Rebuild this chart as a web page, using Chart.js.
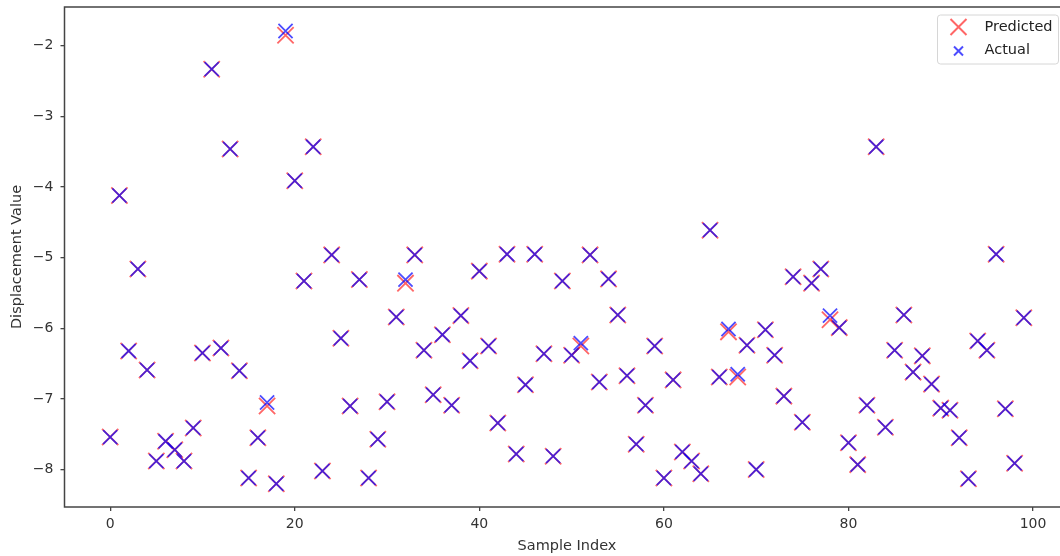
<!DOCTYPE html>
<html>
<head>
<meta charset="utf-8">
<script src="https://cdn.jsdelivr.net/npm/chart.js@4.4.1/dist/chart.umd.min.js"></script>
<style>
  html, body { margin: 0; padding: 0; background: #fff; overflow: hidden; }
  #chart { display: block; }
</style>
</head>
<body>
<canvas id="chart" width="1073" height="556"></canvas>
<script>
// values, index = sample index
const actual = [
  -7.54, -4.12, -6.32, -5.16, -6.59, -7.88, -7.60, -7.72, -7.88, -7.41,
  -6.35, -2.33, -6.28, -3.46, -6.60, -8.12, -7.55, -7.05, -8.20, -1.79,
  -3.91, -5.33, -3.43, -8.02, -4.96, -6.14, -7.10, -5.31, -8.12, -7.57,
  -7.04, -5.84, -5.31, -4.96, -6.31, -6.94, -6.09, -7.09, -5.82, -6.46,
  -5.19, -6.25, -7.34, -4.95, -7.78, -6.80, -4.95, -6.36, -7.81, -5.33,
  -6.38, -6.21, -4.96, -6.76, -5.30, -5.81, -6.67, -7.64, -7.09, -6.25,
  -8.12, -6.73, -7.75, -7.88, -8.06, -4.61, -6.69, -6.01, -6.65, -6.24,
  -8.00, -6.02, -6.38, -6.96, -5.27, -7.33, -5.36, -5.16, -5.82, -5.99,
  -7.62, -7.93, -7.09, -3.43, -7.40, -6.31, -5.81, -6.62, -6.39, -6.79,
  -7.13, -7.16, -7.55, -8.13, -6.18, -6.31, -4.95, -7.14, -7.91, -5.85
];
const predicted = [
  -7.54, -4.12, -6.32, -5.16, -6.59, -7.88, -7.60, -7.72, -7.88, -7.41,
  -6.35, -2.33, -6.28, -3.46, -6.60, -8.12, -7.55, -7.10, -8.20, -1.85,
  -3.91, -5.33, -3.43, -8.02, -4.96, -6.14, -7.10, -5.31, -8.12, -7.57,
  -7.04, -5.84, -5.36, -4.96, -6.31, -6.94, -6.09, -7.09, -5.82, -6.46,
  -5.19, -6.25, -7.34, -4.95, -7.78, -6.80, -4.95, -6.36, -7.81, -5.33,
  -6.38, -6.25, -4.96, -6.76, -5.30, -5.81, -6.67, -7.64, -7.09, -6.25,
  -8.12, -6.73, -7.75, -7.88, -8.06, -4.61, -6.69, -6.05, -6.69, -6.24,
  -8.00, -6.02, -6.38, -6.96, -5.27, -7.33, -5.36, -5.16, -5.88, -5.99,
  -7.62, -7.93, -7.09, -3.43, -7.40, -6.31, -5.81, -6.62, -6.39, -6.79,
  -7.13, -7.16, -7.55, -8.13, -6.18, -6.31, -4.95, -7.14, -7.91, -5.85
];
const xTicks = [0, 20, 40, 60, 80, 100];
const yTicks = [-8, -7, -6, -5, -4, -3, -2];
const seriesNames = ['Predicted', 'Actual'];

const RED = 'rgba(255, 0, 0, 0.6)';
const BLUE = 'rgba(0, 0, 255, 0.7)';
const AXIS = '#444';
const FONT = "'DejaVu Sans', sans-serif";

const toPoints = arr => arr.map((v, i) => ({ x: i, y: v }));

// frame round the plot area (matplotlib style spines)
const frame = {
    id: 'frame',
    afterDatasetsDraw(chart) {
        const { ctx, chartArea: a } = chart;
        ctx.save();
        ctx.strokeStyle = AXIS;
        ctx.lineWidth = 1.5;
        ctx.strokeRect(a.left, a.top, a.right - a.left, a.bottom - a.top);
        ctx.restore();
    }
};

function drawCross(ctx, x, y, half, color, width) {
    ctx.strokeStyle = color;
    ctx.lineWidth = width;
    ctx.beginPath();
    ctx.moveTo(x - half, y - half); ctx.lineTo(x + half, y + half);
    ctx.moveTo(x - half, y + half); ctx.lineTo(x + half, y - half);
    ctx.stroke();
}

// legend box, top right inside the axes
const legendBox = {
    id: 'legendBox',
    afterDraw(chart) {
        const { ctx, chartArea: a } = chart;
        const w = 121, h = 49;
        const x = a.right - 11 - w, y = a.top + 8;
        ctx.save();
        ctx.fillStyle = 'rgba(255,255,255,0.85)';
        ctx.strokeStyle = '#d6d6d6';
        ctx.lineWidth = 1;
        ctx.beginPath();
        ctx.roundRect(x, y, w, h, 3);
        ctx.fill();
        ctx.stroke();

        drawCross(ctx, x + 21, y + 12, 8, RED, 2);
        drawCross(ctx, x + 21, y + 36, 4.5, BLUE, 2);

        ctx.fillStyle = '#222';
        ctx.font = '14.5px ' + FONT;
        ctx.textBaseline = 'middle';
        ctx.textAlign = 'left';
        ctx.fillText(seriesNames[0], x + 47, y + 12);
        ctx.fillText(seriesNames[1], x + 47, y + 35);
        ctx.restore();
    }
};

new Chart(document.getElementById('chart'), {
    type: 'scatter',
    data: {
        datasets: [
            {
                label: seriesNames[0],
                data: toPoints(predicted),
                order: 1,
                pointStyle: 'crossRot',
                pointRadius: 11.5,
                pointHoverRadius: 11.5,
                borderColor: RED,
                backgroundColor: RED,
                pointBorderWidth: 1.8
            },
            {
                label: seriesNames[1],
                data: toPoints(actual),
                order: 0,
                pointStyle: 'crossRot',
                pointRadius: 10,
                pointHoverRadius: 10,
                borderColor: BLUE,
                backgroundColor: BLUE,
                pointBorderWidth: 1.8
            }
        ]
    },
    options: {
        responsive: false,
        animation: false,
        layout: { autoPadding: false, padding: { left: 0, top: 7, right: 3.5, bottom: 0 } },
        plugins: {
            legend: { display: false },
            tooltip: { enabled: false }
        },
        scales: {
            x: {
                type: 'linear',
                min: -4.95,
                max: 103.95,
                afterBuildTicks: s => { s.ticks = xTicks.map(v => ({ value: v })); },
                afterFit: s => { s.height = 49; s.paddingLeft = 0; s.paddingRight = 0; },
                border: { display: false },
                grid: { drawOnChartArea: false, drawTicks: true, tickLength: 4, color: AXIS, lineWidth: 1.3 },
                ticks: { color: '#333', padding: 5, font: { family: FONT, size: 14 }, maxRotation: 0 },
                title: {
                    display: true,
                    text: 'Sample Index',
                    color: '#333',
                    font: { family: FONT, size: 14.5 },
                    padding: { top: 0, bottom: 1 }
                }
            },
            y: {
                min: -8.53,
                max: -1.45,
                afterBuildTicks: s => { s.ticks = yTicks.map(v => ({ value: v })); },
                afterFit: s => { s.width = 64.5; s.paddingTop = 0; s.paddingBottom = 0; },
                border: { display: false },
                grid: { drawOnChartArea: false, drawTicks: true, tickLength: 4, color: AXIS, lineWidth: 1.3 },
                ticks: {
                    color: '#333',
                    padding: 7,
                    font: { family: FONT, size: 14 },
                    callback: v => (v < 0 ? '\u2212' + Math.abs(v) : String(v))
                },
                title: {
                    display: true,
                    text: 'Displacement Value',
                    color: '#333',
                    font: { family: FONT, size: 14.5 },
                    padding: { top: 9, bottom: 0 }
                }
            }
        }
    },
    plugins: [frame, legendBox]
});
</script>
</body>
</html>
